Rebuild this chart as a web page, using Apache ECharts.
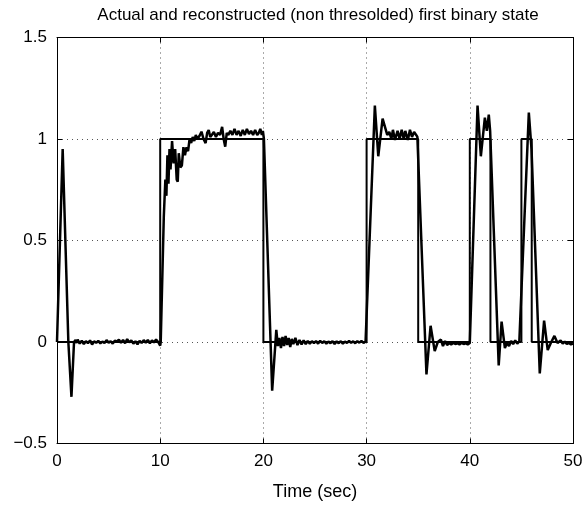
<!DOCTYPE html>
<html>
<head>
<meta charset="utf-8">
<script src="https://cdn.jsdelivr.net/npm/echarts@6/dist/echarts.min.js"></script>
<style>
  html, body { margin: 0; padding: 0; background: #fff; }
  #chart { width: 583px; height: 506px; }
</style>
</head>
<body>
<div id="chart"></div>
<script>
// Actual binary state (step changes)
const actualT = [0, 10, 10, 20, 20, 30, 30, 35, 35, 40, 40, 42, 42, 45, 45, 46, 46, 50]
const actualV = [0, 0, 1, 1, 0, 0, 1, 1, 0, 0, 1, 1, 0, 0, 1, 1, 0, 0]

// Reconstructed (non thresholded) state
const reconT = [
  0, 0.55, 1.1, 1.4, 1.65, 1.8, 1.9, 2.0, 2.2, 2.4, 2.6, 2.8, 3.0, 3.2, 3.4, 3.6, 3.8, 4.0,
  4.2, 4.4, 4.6, 4.8, 5.0, 5.2, 5.4, 5.6, 5.8, 6.0, 6.2, 6.4, 6.6, 6.8, 7.0, 7.2, 7.4, 7.6,
  7.8, 8.0, 8.2, 8.4, 8.6, 8.8, 9.0, 9.2, 9.4, 9.6, 9.8, 10.0,
  10.05, 10.35, 10.5, 10.6, 10.7, 10.8, 10.9, 11.0, 11.15, 11.3, 11.45, 11.6, 11.7, 11.8,
  11.95, 12.1, 12.25, 12.4, 12.55, 12.7, 12.85, 13.0, 13.15, 13.3, 13.45, 13.6, 13.8, 14.0,
  14.2, 14.4, 14.55, 14.7, 14.85, 15.0, 15.2, 15.4, 15.6, 15.8, 16.0, 16.15, 16.3, 16.45,
  16.6, 16.8, 17.0, 17.2, 17.4, 17.6, 17.8, 18.0, 18.2, 18.4, 18.6, 18.8, 19.0, 19.2, 19.4,
  19.55, 19.7, 19.85, 19.95,
  20.05, 20.85, 21.25, 21.4, 21.55, 21.7, 21.85, 22.0, 22.15, 22.3, 22.45, 22.6, 22.75,
  22.9, 23.1, 23.3, 23.5, 23.7, 23.9, 24.1, 24.3, 24.5, 24.7, 24.9, 25.1, 25.3, 25.5, 25.7,
  25.9, 26.1, 26.3, 26.5, 26.7, 26.9, 27.1, 27.3, 27.5, 27.7, 27.9, 28.1, 28.3, 28.5, 28.7,
  28.9, 29.1, 29.3, 29.5, 29.7, 29.9, 30.05,
  30.8, 31.13, 31.55, 32.0, 32.2, 32.4, 32.55, 32.75, 33.0, 33.2, 33.4, 33.6, 33.75, 34.0,
  34.2, 34.4, 34.6, 34.8, 34.92,
  35.8, 36.2, 36.6, 36.9, 37.2, 37.4, 37.6, 37.8, 38.0, 38.2, 38.4, 38.6, 38.8, 39.0, 39.2,
  39.4, 39.6, 39.8, 40.0,
  40.75, 41.07, 41.46, 41.65, 41.84, 41.97,
  42.8, 43.08, 43.4, 43.6, 43.8, 44.0, 44.2, 44.4, 44.6, 44.8, 44.95,
  45.72, 45.98,
  46.78, 47.2, 47.55, 47.85, 48.2, 48.5, 48.8, 49.0, 49.2, 49.4, 49.6, 49.8, 50.0
]
const reconV = [
  0, 0.95, 0, -0.27, 0, 0.01, -0.005, 0.012, -0.008, 0.006, -0.01, 0.004, -0.006, 0.008, -0.012, 0.003, -0.004, 0.006,
  -0.007, 0.002, -0.005, 0.009, -0.003, 0.004, -0.008, 0.006, 0.003, 0.012, -0.004, 0.01, -0.006, 0.014, -0.002, 0.008, -0.008, 0.004,
  -0.012, 0.006, -0.005, 0.009, -0.003, 0.01, -0.006, 0.008, -0.002, 0.012, 0.0, -0.018,
  0, 0.62, 0.8, 0.72, 0.92, 0.78, 0.95, 0.85, 0.99, 0.88, 0.95, 0.8, 0.79, 0.93,
  0.86, 0.87, 0.96, 0.92, 0.96, 0.94, 1.0, 0.98, 1.01, 0.99, 1.02, 1.0, 1.015, 1.036,
  1.0, 0.98, 1.03, 1.044, 1.01, 1.02, 1.035, 1.01, 1.03, 1.02, 1.06, 1.0, 0.962, 1.03,
  1.02, 1.04, 1.02, 1.05, 1.02, 1.04, 1.015, 1.045, 1.02, 1.05, 1.025, 1.04, 1.02, 1.045, 1.02,
  1.03, 1.05, 1.02, 1.04,
  1.0, -0.24, 0.06, -0.02, 0.02, -0.03, 0.025, -0.02, 0.03, -0.015, 0.02, -0.025, 0.015,
  -0.01, 0.02, -0.015, 0.01, -0.012, 0.008, -0.01, 0.005, -0.008, 0.004, -0.006, 0.005, -0.008, 0.006, -0.005,
  0.004, -0.008, 0.002, -0.006, 0.004, -0.01, 0.003, -0.006, 0.004, -0.008, 0.002, -0.005, 0.006, -0.004, 0.003,
  -0.006, 0.004, -0.003, 0.005, -0.004, 0.002, 0.0,
  1.165, 0.915, 1.1, 1.02, 1.035, 1.0, 1.045, 0.995, 1.04, 1.0, 1.045, 1.0, 1.04, 0.995,
  1.045, 1.01, 1.035, 1.02, 1.01,
  -0.16, 0.08, -0.045, 0.0, 0.012, -0.02, 0.005, -0.015, -0.005, -0.012, -0.004, -0.01, -0.006, -0.012, -0.004,
  -0.01, -0.006, -0.012, -0.005,
  1.165, 0.915, 1.105, 1.04, 1.12, 1.04,
  -0.115, 0.1, -0.03, -0.005, -0.02, 0.005, -0.01, 0.008, -0.008, 0.004, -0.005,
  1.13, 0.95,
  -0.155, 0.105, -0.04, -0.005, 0.03, -0.005, 0.008, -0.008, 0.002, -0.01, -0.004, -0.012, -0.008
]

const xTicks = [0, 10, 20, 30, 40, 50]
const yTicks = [-0.5, 0, 0.5, 1, 1.5]

const FONT = '"Liberation Sans", Arial, sans-serif'

const actualData = actualT.map((t, i) => [t, actualV[i]])
const reconData = reconT.map((t, i) => [t, reconV[i]])

const tickStyle = { inside: true, length: 5, lineStyle: { color: '#000', width: 1 } }
const lineStyle = { show: true, onZero: false, lineStyle: { color: '#000', width: 1 } }
const gridStyle = { show: true, lineStyle: { color: '#555', width: 1, type: [1, 4] } }

const chart = echarts.init(document.getElementById('chart'), null, { renderer: 'canvas' })

chart.setOption({
  animation: false,
  backgroundColor: '#fff',
  title: {
    text: 'Actual and reconstructed (non thresolded) first binary state',
    left: 313,
    textAlign: 'center',
    top: 2,
    textStyle: { fontFamily: FONT, fontSize: 17, fontWeight: 'normal', color: '#000' },
  },
  grid: {
    left: 57,
    right: 10,
    top: 37.5,
    bottom: 62.5,
    containLabel: false,
    outerBoundsMode: 'none',
  },
  xAxis: [
    {
      type: 'value',
      min: xTicks[0],
      max: xTicks[xTicks.length - 1],
      interval: 10,
      name: 'Time (sec)',
      nameLocation: 'middle',
      nameGap: 40,
      nameTextStyle: { fontFamily: FONT, fontSize: 18, color: '#000' },
      axisLine: lineStyle,
      axisTick: tickStyle,
      axisLabel: { fontFamily: FONT, fontSize: 17, color: '#000', margin: 9 },
      splitLine: gridStyle,
    },
    {
      type: 'value',
      position: 'top',
      min: xTicks[0],
      max: xTicks[xTicks.length - 1],
      interval: 10,
      axisLine: lineStyle,
      axisTick: tickStyle,
      axisLabel: { show: false },
      splitLine: { show: false },
    },
  ],
  yAxis: [
    {
      type: 'value',
      min: yTicks[0],
      max: yTicks[yTicks.length - 1],
      interval: 0.5,
      axisLine: lineStyle,
      axisTick: tickStyle,
      axisLabel: {
        fontFamily: FONT,
        fontSize: 17,
        color: '#000',
        margin: 10,
        formatter: (v) => String(v).replace('-', '\u2212'),
      },
      splitLine: gridStyle,
    },
    {
      type: 'value',
      position: 'right',
      min: yTicks[0],
      max: yTicks[yTicks.length - 1],
      interval: 0.5,
      axisLine: lineStyle,
      axisTick: tickStyle,
      axisLabel: { show: false },
      splitLine: { show: false },
    },
  ],
  series: [
    {
      name: 'Actual',
      type: 'line',
      data: actualData,
      symbol: 'none',
      lineStyle: { color: '#000', width: 2 },
      z: 3,
    },
    {
      name: 'Reconstructed',
      type: 'line',
      data: reconData,
      symbol: 'none',
      lineStyle: { color: '#000', width: 2.5 },
      z: 4,
    },
  ],
})
</script>
</body>
</html>
